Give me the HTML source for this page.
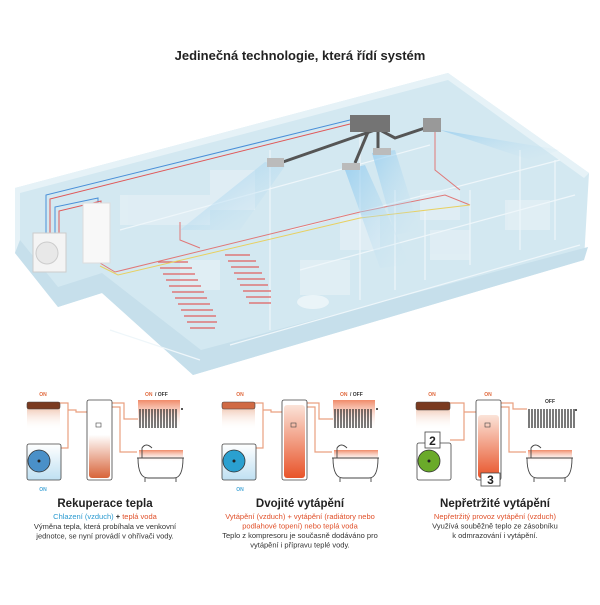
<!DOCTYPE html>
<html><head><meta charset="utf-8"><style>
body{margin:0;background:#fff;width:600px;height:600px;overflow:hidden;font-family:"Liberation Sans",sans-serif}
</style></head><body>
<svg width="600" height="600" viewBox="0 0 600 600" xmlns="http://www.w3.org/2000/svg" font-family="Liberation Sans, sans-serif">
<defs>
<linearGradient id="cu" x1="0" y1="0" x2="0" y2="1"><stop offset="0" stop-color="#e9a98a"/><stop offset="1" stop-color="#fff" stop-opacity="0"/></linearGradient>
<linearGradient id="tk" x1="0" y1="0" x2="0" y2="1"><stop offset="0.1" stop-color="#fff"/><stop offset="1" stop-color="#d8643a"/></linearGradient>
<linearGradient id="tk2" x1="0" y1="0" x2="0" y2="1"><stop offset="0" stop-color="#fbe3d8"/><stop offset="1" stop-color="#e8542a"/></linearGradient>
<linearGradient id="rd" x1="0" y1="0" x2="0" y2="1"><stop offset="0" stop-color="#f08a68"/><stop offset="1" stop-color="#fff" stop-opacity="0"/></linearGradient>
<linearGradient id="bl" x1="0" y1="0" x2="0" y2="1"><stop offset="0" stop-color="#fff"/><stop offset="1" stop-color="#bfe0f2"/></linearGradient>
<linearGradient id="air" x1="0" y1="0" x2="1" y2="1"><stop offset="0" stop-color="#8fcaf0"/><stop offset="1" stop-color="#cfe6f0" stop-opacity="0"/></linearGradient>
</defs>
<text x="300" y="60" text-anchor="middle" font-size="13" font-weight="bold" fill="#222">Jedinečná technologie, která řídí systém</text>

<!-- building -->
<polygon points="15,188 448,73 589,173 584,260 193,375 102,293 58,307 15,253" fill="#d3e8f1"/>
<polygon points="15,188 448,73 589,173 584,178 448,80 20,193 20,255 15,253" fill="#e6f2f7"/>
<polygon points="102,273 201,350 588,247 584,260 193,375 102,293" fill="#c6dfeb"/>
<polygon points="15,253 58,307 102,293 102,273 58,287 20,240" fill="#c6dfeb"/>
<g fill="#e2eff5" opacity="0.85">
<rect x="120" y="195" width="90" height="30"/><rect x="210" y="170" width="45" height="40"/>
<rect x="300" y="260" width="50" height="35"/><rect x="340" y="215" width="40" height="35"/>
<rect x="420" y="190" width="40" height="30"/><rect x="430" y="230" width="40" height="30"/>
<rect x="505" y="200" width="45" height="30"/><rect x="180" y="260" width="40" height="30"/>
</g>
<g stroke="#eef6fa" stroke-width="1.2" fill="none">
<line x1="270" y1="150" x2="270" y2="330"/><line x1="360" y1="125" x2="360" y2="300"/><line x1="395" y1="190" x2="395" y2="290"/><line x1="425" y1="210" x2="425" y2="280"/><line x1="470" y1="190" x2="470" y2="265"/><line x1="520" y1="150" x2="520" y2="250"/><line x1="555" y1="160" x2="555" y2="240"/>
<line x1="120" y1="230" x2="430" y2="145"/><line x1="290" y1="230" x2="560" y2="160"/><line x1="300" y1="270" x2="575" y2="195"/>
<line x1="110" y1="330" x2="200" y2="360"/><line x1="230" y1="345" x2="580" y2="245"/>
</g>
<ellipse cx="313" cy="302" rx="16" ry="7" fill="#eaf4f8"/>
<!-- floor heating -->
<g stroke="#e06060" stroke-width="1.2" fill="none">
<path d="M158,262 h30 M160,268 h32 M163,274 h32 M166,280 h32 M169,286 h32 M172,292 h32 M175,298 h32 M178,304 h32 M181,310 h32 M184,316 h32 M187,322 h30 M190,328 h25"/>
<path d="M225,255 h25 M228,261 h28 M231,267 h28 M234,273 h28 M237,279 h28 M240,285 h28 M243,291 h28 M246,297 h25 M249,303 h22"/>
</g>
<!-- pipes -->
<g fill="none" stroke-width="1">
<path d="M46,235 V195 L350,120" stroke="#4a8fd8"/>
<path d="M50,235 V199 L350,124" stroke="#e05858"/>
<path d="M55,235 V207 L98,198 V205" stroke="#4a8fd8"/>
<path d="M59,235 V211 L101,201 V205" stroke="#e05858"/>
<path d="M100,263 L115,272 L360,212 L445,195 L470,205" stroke="#e07878"/>
<path d="M100,266 L118,275 L360,218 L470,205" stroke="#e8d060"/>
<path d="M180,222 V240 L200,248 M435,125 V170 L460,190" stroke="#e07878"/>
</g>
<!-- air flows -->
<polygon points="265,162 285,166 240,230 180,230" fill="url(#air)" opacity="0.8"/>
<polygon points="345,170 365,165 410,265 380,268" fill="url(#air)" opacity="0.75"/>
<polygon points="372,153 395,150 420,230 395,235" fill="url(#air)" opacity="0.7"/>
<polygon points="440,130 470,135 560,150 530,160" fill="url(#air)" opacity="0.7"/>
<!-- ducts -->
<g stroke="#555" stroke-width="3" fill="none">
<path d="M280,163 L375,130"/><path d="M380,130 L395,138 L425,128"/><path d="M368,132 L355,163"/><path d="M378,132 L378,150"/>
</g>
<rect x="350" y="115" width="40" height="17" fill="#747474"/>
<rect x="423" y="118" width="18" height="14" fill="#999"/>
<rect x="267" y="158" width="17" height="9" fill="#bbb"/>
<rect x="342" y="163" width="18" height="7" fill="#bbb"/><rect x="373" y="148" width="18" height="7" fill="#bbb"/>
<!-- units -->
<rect x="33" y="233" width="33" height="39" fill="#f4f4f4" stroke="#ccc"/>
<circle cx="47" cy="253" r="11" fill="#e8e8e8" stroke="#ccc"/>
<rect x="83" y="203" width="27" height="60" fill="#f8f8f8" stroke="#ddd"/>

<!-- labels -->
<g font-size="5" font-weight="bold">
<text x="43" y="396" fill="#e0683c" text-anchor="middle">ON</text>
<text x="43" y="491" fill="#4aa8d8" text-anchor="middle">ON</text>
<text x="145" y="396" fill="#e0683c">ON</text><text x="155" y="396" fill="#333">/ OFF</text>
<text x="240" y="396" fill="#e0683c" text-anchor="middle">ON</text>
<text x="240" y="491" fill="#4aa8d8" text-anchor="middle">ON</text>
<text x="340" y="396" fill="#e0683c">ON</text><text x="350" y="396" fill="#333">/ OFF</text>
<text x="432" y="396" fill="#e0683c" text-anchor="middle">ON</text>
<text x="488" y="396" fill="#e0683c" text-anchor="middle">ON</text>
<text x="545" y="403" fill="#333">OFF</text>
</g>

<g>
<path d="M60,403 H68 V448 H61 M68,410 H76 V412 H87 M112,403 H124 V419 H138 M112,407 H120 V452 H137" stroke="#eaa080" stroke-width="1.2" fill="none"/>
<rect x="27" y="402" width="33" height="28" fill="url(#cu)"/>
<rect x="27" y="402" width="33" height="7" rx="2" fill="#7a3a20" stroke="#444" stroke-width="0.6"/>
<rect x="27" y="444" width="34" height="36" rx="2" fill="url(#bl)" stroke="#444" stroke-width="0.8"/>
<rect x="87" y="400" width="25" height="80" rx="2" fill="#fff" stroke="#444" stroke-width="0.8"/>
<rect x="89" y="430" width="21" height="48" rx="3" fill="url(#tk)"/>
<rect x="96" y="423" width="5" height="4" fill="none" stroke="#444" stroke-width="0.6"/>
<rect x="138" y="400" width="42" height="30" fill="url(#rd)"/>
<g stroke="#222" stroke-width="1.2"><path d="M140,409 V428 M143,409 V428 M146,409 V428 M149,409 V428 M152,409 V428 M155,409 V428 M158,409 V428 M161,409 V428 M164,409 V428 M167,409 V428 M170,409 V428 M173,409 V428 M176,409 V428"/></g>
<circle cx="182" cy="409" r="1" fill="#222"/>
<rect x="139" y="450" width="44" height="12" fill="url(#rd)"/>
<path d="M137,458 H184 M138,458 Q138,478 148,478 H174 Q183,478 183,458 M145,478 v4 M176,478 v4 M142,458 V448 Q146,442 152,448" stroke="#444" stroke-width="0.9" fill="none"/>
<circle cx="39" cy="461" r="11" fill="#4a90c8" stroke="#333" stroke-width="0.8"/><circle cx="39" cy="461" r="1.5" fill="#222"/>
</g>

<g transform="translate(195,0)">
<path d="M60,403 H68 V448 H61 M68,410 H76 V412 H87 M112,403 H124 V419 H138 M112,407 H120 V452 H137" stroke="#eaa080" stroke-width="1.2" fill="none"/>
<rect x="27" y="402" width="33" height="28" fill="url(#cu)"/>
<rect x="27" y="402" width="33" height="7" rx="2" fill="#d06a44" stroke="#444" stroke-width="0.6"/>
<rect x="27" y="444" width="34" height="36" rx="2" fill="url(#bl)" stroke="#444" stroke-width="0.8"/>
<rect x="87" y="400" width="25" height="80" rx="2" fill="#fff" stroke="#444" stroke-width="0.8"/>
<rect x="89" y="405" width="21" height="73" rx="3" fill="url(#tk2)"/>
<rect x="96" y="423" width="5" height="4" fill="none" stroke="#444" stroke-width="0.6"/>
<rect x="138" y="400" width="42" height="30" fill="url(#rd)"/>
<g stroke="#222" stroke-width="1.2"><path d="M140,409 V428 M143,409 V428 M146,409 V428 M149,409 V428 M152,409 V428 M155,409 V428 M158,409 V428 M161,409 V428 M164,409 V428 M167,409 V428 M170,409 V428 M173,409 V428 M176,409 V428"/></g>
<circle cx="182" cy="409" r="1" fill="#222"/>
<rect x="139" y="450" width="44" height="12" fill="url(#rd)"/>
<path d="M137,458 H184 M138,458 Q138,478 148,478 H174 Q183,478 183,458 M145,478 v4 M176,478 v4 M142,458 V448 Q146,442 152,448" stroke="#444" stroke-width="0.9" fill="none"/>
<circle cx="39" cy="461" r="11" fill="#2aa0d0" stroke="#333" stroke-width="0.8"/><circle cx="39" cy="461" r="1.5" fill="#222"/>
</g>

<g transform="translate(389,0)">
<path d="M61,403 H75 V440 H61 M75,412 H87 M112,403 H124 V409 H138 M112,407 H120 V452 H137" stroke="#eaa080" stroke-width="1.2" fill="none"/>
<rect x="27" y="402" width="34" height="28" fill="url(#cu)"/>
<rect x="27" y="402" width="34" height="8" rx="2" fill="#7a3a20" stroke="#444" stroke-width="0.6"/>
<rect x="28" y="443" width="34" height="37" rx="2" fill="#fff" stroke="#444" stroke-width="0.8"/>
<circle cx="40" cy="461" r="11" fill="#6aaa2a" stroke="#333" stroke-width="0.8"/><circle cx="40" cy="461" r="1.5" fill="#222"/>
<rect x="36" y="432" width="15" height="16" fill="#fff" stroke="#444" stroke-width="0.8"/>
<text x="43.5" y="445" font-size="12" font-weight="bold" text-anchor="middle" fill="#222">2</text>
<rect x="87" y="400" width="25" height="80" rx="2" fill="#fff" stroke="#444" stroke-width="0.8"/>
<rect x="89" y="415" width="21" height="63" rx="3" fill="url(#tk2)"/>
<rect x="96" y="423" width="5" height="4" fill="none" stroke="#444" stroke-width="0.6"/>
<rect x="92" y="473" width="19" height="13" fill="#fff" stroke="#444" stroke-width="0.8"/>
<text x="101.5" y="484" font-size="12" font-weight="bold" text-anchor="middle" fill="#222">3</text>
<g stroke="#222" stroke-width="1.2"><path d="M140,409 V428 M143,409 V428 M146,409 V428 M149,409 V428 M152,409 V428 M155,409 V428 M158,409 V428 M161,409 V428 M164,409 V428 M167,409 V428 M170,409 V428 M173,409 V428 M176,409 V428 M179,409 V428 M182,409 V428 M185,409 V428"/></g>
<circle cx="187" cy="410" r="1" fill="#222"/>
<rect x="139" y="450" width="44" height="12" fill="url(#rd)"/>
<path d="M137,458 H184 M138,458 Q138,478 148,478 H174 Q183,478 183,458 M145,478 v4 M176,478 v4 M142,458 V448 Q146,442 152,448" stroke="#444" stroke-width="0.9" fill="none"/>
</g>

<g text-anchor="middle">
<text x="105" y="507" font-size="11.5" font-weight="bold" fill="#222">Rekuperace tepla</text>
<text x="105" y="519" font-size="7.5"><tspan fill="#2a9ad0">Chlazení (vzduch)</tspan><tspan fill="#222" font-weight="bold"> + </tspan><tspan fill="#e0502a">teplá voda</tspan></text>
<text x="105" y="529" font-size="7.5" fill="#333">Výměna tepla, která probíhala ve venkovní</text>
<text x="105" y="538.5" font-size="7.5" fill="#333">jednotce, se nyní provádí v ohřívači vody.</text>

<text x="300" y="507" font-size="11.5" font-weight="bold" fill="#222">Dvojité vytápění</text>
<text x="300" y="519" font-size="7.5" fill="#e0502a">Vytápění (vzduch) + vytápění (radiátory nebo</text>
<text x="300" y="528.5" font-size="7.5" fill="#e0502a">podlahové topení) nebo teplá voda</text>
<text x="300" y="538" font-size="7.5" fill="#333">Teplo z kompresoru je současně dodáváno pro</text>
<text x="300" y="547.5" font-size="7.5" fill="#333">vytápění i přípravu teplé vody.</text>

<text x="495" y="507" font-size="11.5" font-weight="bold" fill="#222">Nepřetržité vytápění</text>
<text x="495" y="519" font-size="7.5" fill="#e0502a">Nepřetržitý provoz vytápění (vzduch)</text>
<text x="495" y="528.5" font-size="7.5" fill="#333">Využívá souběžně teplo ze zásobníku</text>
<text x="495" y="538" font-size="7.5" fill="#333">k odmrazování i vytápění.</text>
</g>
</svg>
</body></html>
